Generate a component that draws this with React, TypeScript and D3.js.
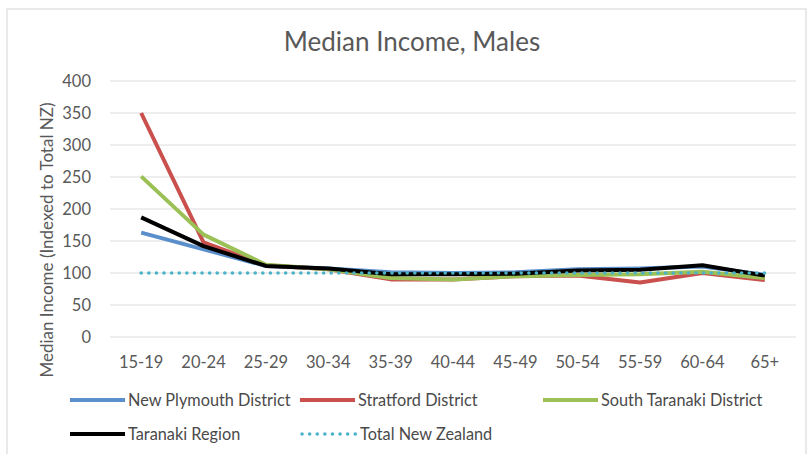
import React from 'react';
import * as d3 from 'd3';

const ageGroups = ['15-19', '20-24', '25-29', '30-34', '35-39', '40-44', '45-49', '50-54', '55-59', '60-64', '65+'];

const newPlymouth = [163, 137, 111, 107, 101, 100, 101, 106, 107, 110, 97];
const stratford = [350, 148, 112, 106, 90, 90, 95, 96, 85, 100, 89];
const southTaranaki = [251, 160, 113, 106, 92, 90, 95, 97, 98, 102, 92];
const taranakiRegion = [187, 142, 111, 107, 98, 98, 99, 104, 105, 112, 96];
const totalNZ = [100, 100, 100, 100, 100, 100, 100, 100, 100, 100, 100];

const yTicks = [0, 50, 100, 150, 200, 250, 300, 350, 400];

const series = [
  { name: 'New Plymouth District', values: newPlymouth, color: '#5b8fcb', dotted: false },
  { name: 'Stratford District', values: stratford, color: '#c9504d', dotted: false },
  { name: 'South Taranaki District', values: southTaranaki, color: '#9bc156', dotted: false },
  { name: 'Taranaki Region', values: taranakiRegion, color: '#000000', dotted: false },
  { name: 'Total New Zealand', values: totalNZ, color: '#4bb3c8', dotted: true },
];

const W = 812;
const H = 454;
const font = 'Lato, "Noto Sans", sans-serif';

export default function App() {
  const x = d3.scaleBand<string>().domain(ageGroups).range([110, 796]);
  const y = d3.scaleLinear().domain([0, 400]).range([337, 81]);
  const line = d3.line<number>()
    .x((_, i) => (x(ageGroups[i]) ?? 0) + x.bandwidth() / 2)
    .y(d => y(d));

  // legend: start of the swatch line and the row
  const legendPos = [
    { lx: 70, ly: 400 },
    { lx: 300, ly: 400 },
    { lx: 543, ly: 400 },
    { lx: 70, ly: 434 },
    { lx: 302, ly: 434 },
  ];

  return (
    <svg width={W} height={H} style={{ position: 'absolute', left: 0, top: 0, background: '#fff' }}>
      <rect x={7} y={9} width={799} height={460} fill="#fff" stroke="#e2e2e2" strokeWidth={1.5} />
      <text x={412} y={51} textAnchor="middle" fontFamily={font} fontSize={26} fill="#595959">
        Median Income, Males
      </text>
      {yTicks.map(t => (
        <g key={t}>
          <line x1={110} x2={796} y1={y(t)} y2={y(t)} stroke="#e8e8e8" strokeWidth={1.5} />
          <text x={91} y={y(t)} dy="0.35em" textAnchor="end" fontFamily={font} fontSize={16.5} fill="#595959">
            {t}
          </text>
        </g>
      ))}
      {ageGroups.map(g => (
        <text key={g} x={(x(g) ?? 0) + x.bandwidth() / 2} y={362} dy="0.35em" textAnchor="middle"
          fontFamily={font} fontSize={16.5} fill="#595959">
          {g}
        </text>
      ))}
      <text transform="translate(47,240) rotate(-90)" textAnchor="middle" dy="0.35em" fontFamily={font} fontSize={17} fill="#595959">
        Median Income (Indexed to Total NZ)
      </text>
      {series.map(s => (
        <path key={s.name} d={line(s.values) ?? ''} fill="none" stroke={s.color}
          strokeWidth={s.dotted ? 3.5 : 4} strokeDasharray={s.dotted ? '0.1 7.5' : undefined}
          strokeLinejoin="round" strokeLinecap={s.dotted ? 'round' : 'butt'} />
      ))}
      {series.map((s, i) => (
        <g key={s.name}>
          <line x1={legendPos[i].lx} x2={legendPos[i].lx + 55} y1={legendPos[i].ly} y2={legendPos[i].ly}
            stroke={s.color} strokeWidth={s.dotted ? 3.5 : 4} strokeDasharray={s.dotted ? '0.1 7.5' : undefined}
            strokeLinecap={s.dotted ? 'round' : 'butt'} />
          <text x={legendPos[i].lx + 58} y={legendPos[i].ly} dy="0.35em" fontFamily={font} fontSize={16.3} fill="#4a4a4a">
            {s.name}
          </text>
        </g>
      ))}
    </svg>
  );
}
